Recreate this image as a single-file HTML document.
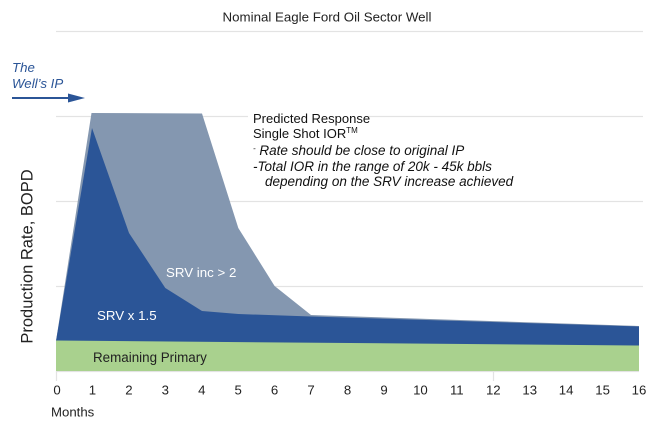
<!DOCTYPE html>
<html>
<head>
<meta charset="utf-8">
<style>
html,body{margin:0;padding:0;background:#fff;}
svg{display:block;}
text{font-family:"Liberation Sans",Arial,sans-serif;}
</style>
</head>
<body>
<svg width="650" height="423" viewBox="0 0 650 423" xmlns="http://www.w3.org/2000/svg">
  <!-- gridlines -->
  <g stroke="#e3e3e3" stroke-width="1.2">
    <line x1="56" y1="31.5" x2="643" y2="31.5"/>
    <line x1="56" y1="116.5" x2="643" y2="116.5"/>
    <line x1="56" y1="201.5" x2="643" y2="201.5"/>
    <line x1="56" y1="286.5" x2="643" y2="286.5"/>
    <line x1="56" y1="371.5" x2="639" y2="371.5"/>
    <line x1="56.5" y1="371" x2="56.5" y2="381"/>
    <line x1="493.5" y1="371" x2="493.5" y2="381"/>
  </g>

  <!-- title -->
  <text x="327" y="21.5" font-size="13.3" fill="#222" text-anchor="middle">Nominal Eagle Ford Oil Sector Well</text>

  <!-- The Well's IP -->
  <text x="12" y="72" font-size="13.3" fill="#2b5597" font-style="italic">The</text>
  <text x="12" y="88" font-size="13.3" fill="#2b5597" font-style="italic">Well’s IP</text>
  <line x1="12" y1="98" x2="72" y2="98" stroke="#2b5597" stroke-width="2"/>
  <polygon points="68,93.5 85,98 68,102.5" fill="#2b5597"/>

  <!-- gray SRV inc > 2 -->
  <polygon fill="#8497b0" points="56,341 91.5,113 202,113.5 238.3,228 274.6,286 311,315 639,326 639,346 56,341"/>

  <!-- blue SRV x 1.5 -->
  <polygon fill="#2b5597" points="56,341 92,128 129,233 165.3,288 202,311 238.3,314 311,316.5 639,326.5 639,346 56,341"/>

  <!-- green remaining primary -->
  <polygon fill="#a9d18e" points="56,340.5 639,345.5 639,371 56,371"/>

  <!-- area labels -->
  <text x="166" y="277" font-size="13.3" fill="#fff">SRV inc &gt; 2</text>
  <text x="97" y="320" font-size="13.3" fill="#fff">SRV x 1.5</text>
  <text x="93" y="362" font-size="13.4" fill="#222">Remaining Primary</text>

  <!-- annotation -->
  <g font-size="13" fill="#111">
    <rect x="248" y="108" width="120" height="16" fill="#fff"/>
    <text x="253" y="123">Predicted Response</text>
    <text x="253" y="138">Single Shot IOR<tspan font-size="8" dy="-5">TM</tspan></text>
    <text x="253" y="155" font-style="italic" font-size="13.5"><tspan font-size="8" dy="-4">-</tspan><tspan dy="4"> Rate should be close to original IP</tspan></text>
    <text x="253" y="171" font-style="italic" font-size="13.5">-Total IOR in the range of 20k - 45k bbls</text>
    <text x="265" y="186" font-style="italic" font-size="13.5">depending on the SRV increase achieved</text>
  </g>

  <!-- x tick labels -->
  <g font-size="13.2" fill="#222" text-anchor="middle">
    <text x="57" y="394.5">0</text>
    <text x="92.4" y="394.5">1</text>
    <text x="128.9" y="394.5">2</text>
    <text x="165.3" y="394.5">3</text>
    <text x="201.8" y="394.5">4</text>
    <text x="238.2" y="394.5">5</text>
    <text x="274.6" y="394.5">6</text>
    <text x="311.1" y="394.5">7</text>
    <text x="347.5" y="394.5">8</text>
    <text x="384" y="394.5">9</text>
    <text x="420.4" y="394.5">10</text>
    <text x="456.8" y="394.5">11</text>
    <text x="493.3" y="394.5">12</text>
    <text x="529.7" y="394.5">13</text>
    <text x="566.1" y="394.5">14</text>
    <text x="602.6" y="394.5">15</text>
    <text x="639" y="394.5">16</text>
  </g>
  <text x="51" y="416.5" font-size="13.2" fill="#222">Months</text>

  <!-- y label -->
  <text x="0" y="0" font-size="16.5" fill="#222" text-anchor="middle" transform="translate(32.5,256.5) rotate(-90)">Production Rate, BOPD</text>
</svg>
</body>
</html>
